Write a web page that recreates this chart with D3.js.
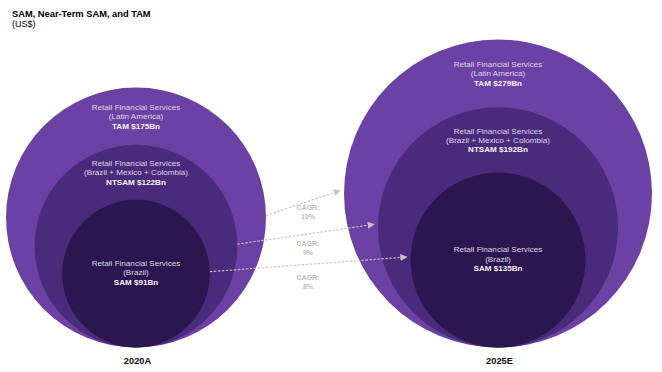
<!DOCTYPE html>
<html>
<head>
<meta charset="utf-8">
<script src="https://cdn.jsdelivr.net/npm/d3@7"></script>
<style>
  body { margin: 0; background: #fff; }
  svg { display: block; font-family: "Liberation Sans", Arial, sans-serif; }
</style>
</head>
<body>
<svg id="chart" width="662" height="372"></svg>
<script>
// data
const years = ["2020A", "2025E"];
const segments = ["TAM", "NTSAM", "SAM"];
const regions = ["(Latin America)", "(Brazil + Mexico + Colombia)", "(Brazil)"];
const values2020 = [175, 122, 91];
const values2025 = [279, 192, 135];
const cagrLabels = ["10%", "9%", "8%"];

const width = 662, height = 372;
const bottomY = 347.5;
const fills = ["#6b42a3", "#4a2b7b", "#2b164f"];

const svg = d3.select("#chart");

const x = d3.scalePoint().domain(years).range([136, 498]);
// outer circle grows with TAM, inner rings keep a fixed share of it
const outerR = d3.scaleLinear().domain(d3.extent([values2020[0], values2025[0]])).range([130, 154]);
const ringShare = d3.scaleOrdinal().domain(segments).range([1, 0.78, 0.568]);
const color = d3.scaleOrdinal().domain(segments).range(fills);

const panels = years.map((yr, p) => {
  const vals = p === 0 ? values2020 : values2025;
  const R = outerR(vals[0]);
  const rings = segments.map((s, i) => {
    const r = R * ringShare(s);
    return { seg: s, region: regions[i], value: vals[i], cx: x(yr), r, cy: bottomY - r, top: bottomY - 2 * r };
  });
  return { year: yr, rings };
});

// title
svg.append("text").attr("x", 12).attr("y", 16.5)
  .attr("font-size", 9.3).attr("font-weight", "bold").attr("fill", "#000")
  .text("SAM, Near-Term SAM, and TAM");
svg.append("text").attr("x", 12).attr("y", 26.5)
  .attr("font-size", 9).attr("fill", "#000")
  .text("(US$)");

const g = svg.selectAll("g.panel").data(panels).join("g").attr("class", "panel");

g.selectAll("circle").data(d => d.rings).join("circle")
  .attr("cx", d => d.cx).attr("cy", d => d.cy).attr("r", d => d.r)
  .attr("fill", d => color(d.seg));

// ring labels: middle line sits between this ring's top and the next one's, SAM at centre
g.each(function (pd) {
  const rings = pd.rings;
  rings.forEach((d, i) => {
    const mid = i < rings.length - 1 ? (d.top + rings[i + 1].top) / 2 : d.cy - 1.5;
    const t = d3.select(this).append("text")
      .attr("text-anchor", "middle").attr("font-size", 8.1);
    const lines = ["Retail Financial Services", d.region, `${d.seg} $${d.value}Bn`];
    lines.forEach((ln, k) => {
      t.append("tspan")
        .attr("x", d.cx).attr("y", mid + (k - 1) * 9.4 + 3)
        .attr("fill", k === 2 ? "#f4f2f7" : "#ddd7e6")
        .attr("font-weight", k === 2 ? "bold" : null)
        .text(ln);
    });
  });
});

// year labels
svg.selectAll("text.year").data(years).join("text").attr("class", "year")
  .attr("x", d => x(d) + 1.5).attr("y", 364)
  .attr("text-anchor", "middle").attr("font-size", 9.3).attr("font-weight", "bold")
  .attr("fill", "#111")
  .text(d => d);

// CAGR arrows
svg.append("defs").append("marker")
  .attr("id", "arrow").attr("viewBox", "0 0 10 10")
  .attr("refX", 9).attr("refY", 5)
  .attr("markerWidth", 7).attr("markerHeight", 7)
  .attr("markerUnits", "userSpaceOnUse")
  .attr("orient", "auto")
  .append("path").attr("d", "M0,0L10,5L0,10Z").attr("fill", "#c4c4c4");

const arrows = segments.map((s, i) => {
  const a = panels[0].rings[i], b = panels[1].rings[i];
  const y1 = a.cy - 2, y2 = b.cy - 3;
  const x1 = a.cx + Math.sqrt(a.r * a.r - (y1 - a.cy) ** 2);
  const x2 = b.cx - Math.sqrt(b.r * b.r - (y2 - b.cy) ** 2) - 4;
  return { x1, y1, x2, y2, label: cagrLabels[i], i };
});

svg.selectAll("line.cagr").data(arrows).join("line").attr("class", "cagr")
  .attr("x1", d => d.x1).attr("y1", d => d.y1)
  .attr("x2", d => d.x2).attr("y2", d => d.y2)
  .attr("stroke", "#c4c4c4").attr("stroke-width", 1.1)
  .attr("stroke-dasharray", "2.5,1.5")
  .attr("marker-end", "url(#arrow)");

const labelX = (panels[0].rings[0].cx + panels[0].rings[0].r + panels[1].rings[0].cx - panels[1].rings[0].r) / 2 + 3;
const cagr = svg.selectAll("text.cagr").data(arrows).join("text").attr("class", "cagr")
  .attr("text-anchor", "middle").attr("font-size", 7).attr("font-weight", "bold")
  .attr("fill", "#bdbdbd");
cagr.each(function (d) {
  const yAt = d.y1 + (d.y2 - d.y1) * (labelX - d.x1) / (d.x2 - d.x1);
  const top = yAt + 9 + d.i * 3.3;
  const t = d3.select(this);
  t.append("tspan").attr("x", labelX).attr("y", top).text("CAGR:");
  t.append("tspan").attr("x", labelX).attr("y", top + 8.8).text(d.label);
});
</script>
</body>
</html>
